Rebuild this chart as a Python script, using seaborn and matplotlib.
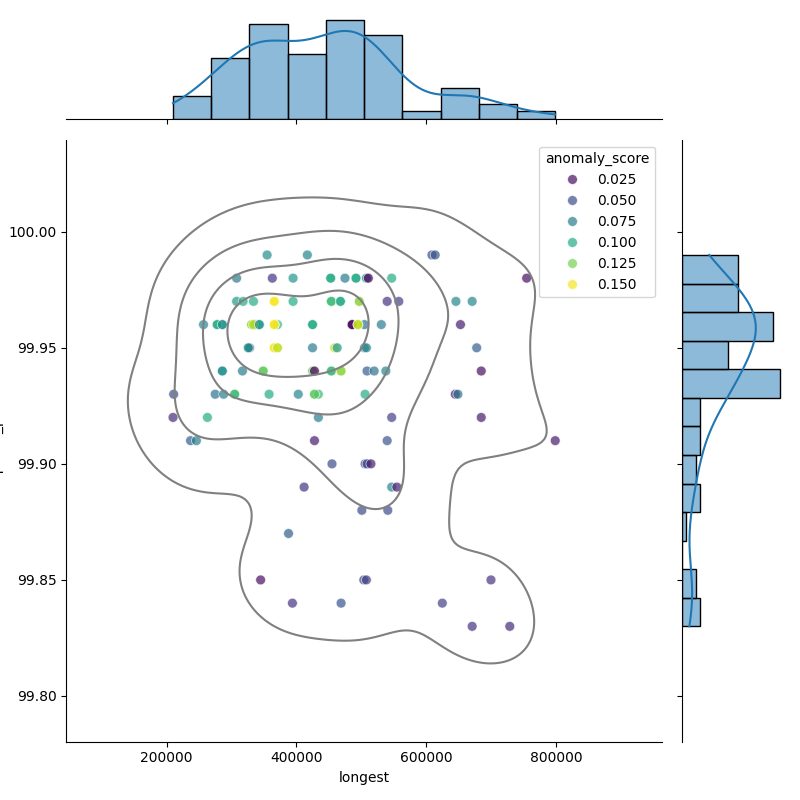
import pandas as pd
import matplotlib
matplotlib.use("Agg")
import matplotlib.pyplot as plt
import seaborn as sns

# --- data, one line per uptime level ---
# longest (in thousands), anomaly score; repeated entries are stacked points
longest_k = [
    355, 417, 609, 614,                                                      # 99.99
    308, 363, 395, 453, 475, 492, 508, 511, 547, 755, 453, 492,              # 99.98
    308, 318, 334, 366, 395, 454, 468, 497, 540, 558, 646, 671,              # 99.97
    366, 454, 468, 497,
    257, 278, 286, 331, 334, 337, 343, 366, 371, 425, 486, 495, 505, 531,    # 99.96
    653, 278, 286, 331, 334, 343, 366, 366, 425, 486, 495, 495,
    326, 328, 366, 371, 425, 459, 463, 505, 508, 678, 326, 366, 371,         # 99.95
    286, 317, 349, 425, 428, 454, 469, 509, 520, 538, 685, 286, 349, 454,    # 99.94
    469,
    211, 275, 288, 305, 358, 403, 428, 434, 506, 645, 649, 305, 428,         # 99.93
    210, 263, 434, 547, 685,                                                 # 99.92
    237, 246, 428, 540, 799,                                                 # 99.91
    455, 506, 509, 515,                                                      # 99.90
    412, 547, 555,                                                           # 99.89
    501, 541,                                                                # 99.88
    388,                                                                     # 99.87
    345, 504, 508, 700,                                                      # 99.85
    394, 469, 625,                                                           # 99.84
    671, 729,                                                                # 99.83
]

uptime_levels = [99.99, 99.98, 99.97, 99.96, 99.95, 99.94, 99.93, 99.92,
                 99.91, 99.90, 99.89, 99.88, 99.87, 99.85, 99.84, 99.83]
level_counts = [4, 12, 16, 26, 13, 15, 13, 5, 5, 4, 3, 2, 1, 4, 3, 2]

anomaly = [
    0.085, 0.08, 0.05, 0.055,
    0.075, 0.04, 0.09, 0.10, 0.075, 0.10, 0.075, 0.02, 0.10, 0.025, 0.10, 0.10,
    0.09, 0.10, 0.10, 0.152, 0.10, 0.11, 0.10, 0.13, 0.04, 0.045, 0.08, 0.08,
    0.15, 0.11, 0.10, 0.13,
    0.08, 0.10, 0.085, 0.13, 0.14, 0.085, 0.09, 0.15, 0.11, 0.10, 0.02, 0.14, 0.07, 0.075,
    0.03, 0.10, 0.085, 0.13, 0.14, 0.09, 0.15, 0.15, 0.10, 0.02, 0.14, 0.14,
    0.09, 0.05, 0.15, 0.14, 0.075, 0.14, 0.09, 0.075, 0.08, 0.06, 0.09, 0.15, 0.14,
    0.085, 0.075, 0.12, 0.12, 0.02, 0.11, 0.13, 0.06, 0.07, 0.08, 0.025, 0.085, 0.12, 0.11,
    0.13,
    0.05, 0.07, 0.075, 0.11, 0.10, 0.08, 0.12, 0.11, 0.10, 0.03, 0.07, 0.11, 0.12,
    0.035, 0.10, 0.075, 0.045, 0.03,
    0.06, 0.075, 0.03, 0.055, 0.03,
    0.05, 0.045, 0.05, 0.03,
    0.04, 0.08, 0.03,
    0.05, 0.05,
    0.06,
    0.025, 0.05, 0.045, 0.04,
    0.04, 0.055, 0.045,
    0.04, 0.035,
]

uptime = []
for level, n in zip(uptime_levels, level_counts):
    uptime += [level] * n

df = pd.DataFrame({
    "longest": [v * 1000 for v in longest_k],
    "uptime_pct": uptime,
    "anomaly_score": anomaly,
})

g = sns.JointGrid(data=df, x="longest", y="uptime_pct", height=8)
g.plot_joint(sns.scatterplot, hue=df["anomaly_score"], palette="viridis",
             alpha=0.7, s=50)
g.plot_joint(sns.kdeplot, color="gray", levels=5)
g.plot_marginals(sns.histplot, kde=True)
sns.move_legend(g.ax_joint, "upper right")
g.set_axis_labels("longest", "uptime_pct")

g.figure.set_size_inches(8, 8)
g.figure.savefig("out.png", dpi=100)
